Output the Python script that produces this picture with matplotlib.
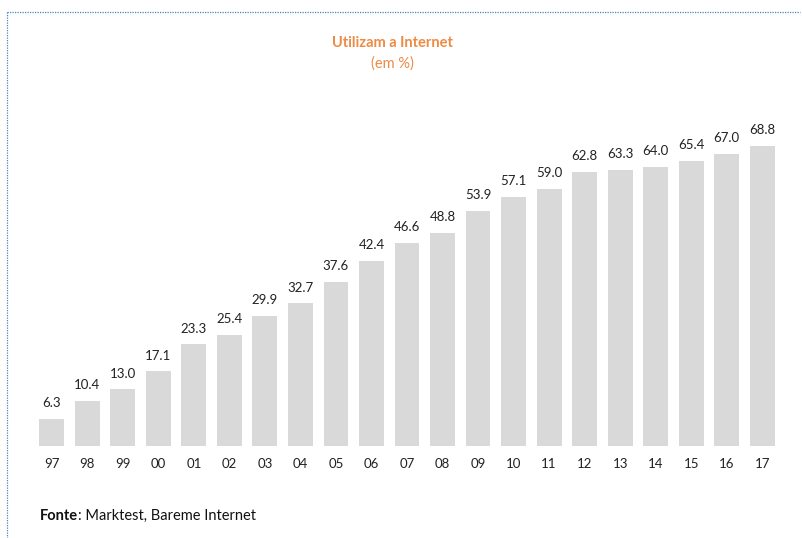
import matplotlib
matplotlib.use("Agg")
import matplotlib.pyplot as plt
from matplotlib.lines import Line2D

years = ["97", "98", "99", "00", "01", "02", "03", "04", "05", "06", "07",
         "08", "09", "10", "11", "12", "13", "14", "15", "16", "17"]
values = [6.3, 10.4, 13.0, 17.1, 23.3, 25.4, 29.9, 32.7, 37.6, 42.4, 46.6,
          48.8, 53.9, 57.1, 59.0, 62.8, 63.3, 64.0, 65.4, 67.0, 68.8]

plt.rcParams['font.family'] = ['Lato', 'DejaVu Sans']

W, H = 803, 538
fig = plt.figure(figsize=(W / 100, H / 100), dpi=100)
ax = fig.add_axes([34 / W, 1 - 446 / H, 746 / W, 349 / H])

x = list(range(len(years)))
ax.bar(x, values, width=0.7, color="#D9D9D9")
for xi, v in zip(x, values):
    ax.annotate(f"{v:.1f}", (xi, v), xytext=(0, 7), textcoords="offset points",
                ha="center", va="bottom", fontsize=9.5, color="#222222")

ax.set_xlim(-0.5, len(years) - 0.5)
ax.set_ylim(0, 80)
ax.set_xticks(x)
ax.set_xticklabels(years, fontsize=9.5, color="#222222")
ax.tick_params(axis="x", length=0, pad=9)
ax.set_yticks([])
for s in ax.spines.values():
    s.set_visible(False)

fig.text(392 / W, 1 - 43 / H, "Utilizam a Internet", ha="center", va="center",
         fontsize=10.5, fontweight="bold", color="#ED8B45")
fig.text(392 / W, 1 - 64 / H, "(em %)", ha="center", va="center",
         fontsize=10.5, color="#ED8B45")

t1 = fig.text(40 / W, 1 - 520 / H, "Fonte", ha="left", va="baseline",
              fontsize=10.5, fontweight="bold", color="#111111")
ax.annotate(": Marktest, Bareme Internet", xy=(1, 0), xycoords=t1,
            xytext=(0, 0), textcoords="offset points",
            ha="left", va="bottom", fontsize=10.5, color="#111111",
            annotation_clip=False)

# dotted border (top and left)
fig.add_artist(Line2D([7 / W, 800 / W], [1 - 12 / H, 1 - 12 / H], transform=fig.transFigure,
                      color="#4F81BD", linestyle=(0, (1, 1)), linewidth=0.9))
fig.add_artist(Line2D([7 / W, 7 / W], [1 - 12 / H, 0], transform=fig.transFigure,
                      color="#4F81BD", linestyle=(0, (1, 1)), linewidth=0.9))

fig.savefig("out.png", dpi=100)
